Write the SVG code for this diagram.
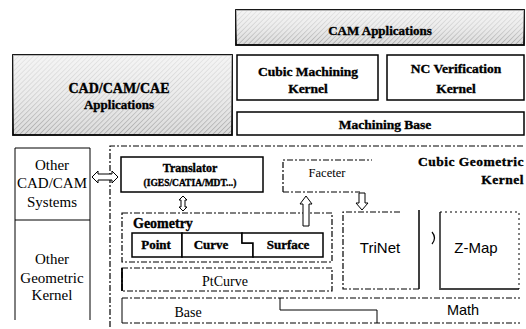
<svg xmlns="http://www.w3.org/2000/svg" width="526" height="329" viewBox="0 0 526 329">
<defs>
<pattern id="hatch" width="3.5" height="3.5" patternUnits="userSpaceOnUse" patternTransform="rotate(45)">
<rect width="3.5" height="3.5" fill="#dcdcdc"/>
<line x1="0" y1="0" x2="0" y2="3.5" stroke="#8a8a8a" stroke-width="1"/>
</pattern>
<linearGradient id="shade" x1="0" y1="0" x2="0" y2="1">
<stop offset="0" stop-color="#ffffff" stop-opacity="0.7"/>
<stop offset="0.5" stop-color="#ffffff" stop-opacity="0.45"/>
<stop offset="1" stop-color="#ffffff" stop-opacity="0"/>
</linearGradient>
</defs>
<style>
.solid{fill:#fff;stroke:#000;stroke-width:1.5}
.thin{fill:none;stroke:#000;stroke-width:1}
.dash{fill:none;stroke:#000;stroke-width:1.2;stroke-dasharray:6 2 2 2}
.dot{fill:none;stroke:#000;stroke-width:1;stroke-dasharray:2 3}
.shaded{fill:url(#hatch);stroke:#000;stroke-width:1.8}
.b{font-family:"Liberation Serif",serif;font-weight:bold;fill:#000;stroke:#000;stroke-width:0.35;text-anchor:middle}
.r{font-family:"Liberation Serif",serif;fill:#000;text-anchor:middle}
.s{font-family:"Liberation Sans",sans-serif;fill:#000;text-anchor:middle}
.arrow{fill:#fff;stroke:#000;stroke-width:1}
</style>
<rect width="526" height="329" fill="#fff"/>

<g id="cam-applications">
<rect class="shaded" x="236" y="10" width="288" height="35"/>
<rect x="236" y="10" width="288" height="35" fill="url(#shade)"/>
<text class="b" x="380" y="35" font-size="13">CAM Applications</text>
</g>

<g id="cubic-machining-kernel">
<rect class="solid" x="237" y="55" width="141" height="45"/>
<text class="b" x="308" y="76" font-size="13.5">Cubic Machining</text>
<text class="b" x="308" y="93" font-size="13.5">Kernel</text>
</g>

<g id="nc-verification-kernel">
<rect class="solid" x="387" y="55" width="137" height="45"/>
<text class="b" x="456" y="73" font-size="13.5">NC Verification</text>
<text class="b" x="456" y="93" font-size="13.5">Kernel</text>
</g>

<g id="machining-base">
<rect class="solid" x="237" y="112" width="287" height="23"/>
<text class="b" x="385" y="129" font-size="13.5">Machining Base</text>
</g>

<g id="cad-cam-cae-applications">
<rect class="shaded" x="13" y="55" width="219" height="80"/>
<rect x="13" y="55" width="219" height="80" fill="url(#shade)"/>
<text class="b" x="119" y="93" font-size="14">CAD/CAM/CAE</text>
<text class="b" x="119" y="109" font-size="13">Applications</text>
</g>

<g id="other-cad-cam-systems">
<path class="thin" d="M15,220 V148 H90 V220"/>
<text class="r" x="52" y="170" font-size="15">Other</text>
<text class="r" x="52" y="188" font-size="15">CAD/CAM</text>
<text class="r" x="52" y="207" font-size="15">Systems</text>
</g>

<g id="other-geometric-kernel">
<path class="thin" d="M15,320 V220 H90 V320"/>
<text class="r" x="52" y="264" font-size="15">Other</text>
<text class="r" x="52" y="283" font-size="15">Geometric</text>
<text class="r" x="52" y="300" font-size="15">Kernel</text>
</g>

<g id="cubic-geometric-kernel">
<path class="dash" d="M110,327 V146 H524"/>
<text class="b" x="524" y="166" font-size="13.5" style="text-anchor:end" letter-spacing="0.5">Cubic Geometric</text>
<text class="b" x="524" y="184" font-size="13.5" style="text-anchor:end" letter-spacing="0.5">Kernel</text>
</g>

<g id="translator">
<rect class="solid" x="121" y="157" width="142" height="35"/>
<text class="b" x="190" y="172" font-size="12">Translator</text>
<text class="b" x="190" y="186" font-size="9.5">(IGES/CATIA/MDT...)</text>
</g>

<g id="faceter">
<path class="dash" d="M283,192 V160 H372 M283,192 H360"/>
<text class="r" x="327" y="177" font-size="12.5">Faceter</text>
</g>

<g id="geometry">
<rect class="dash" x="122" y="213" width="210" height="49"/>
<text class="b" x="133" y="228" font-size="14" style="text-anchor:start">Geometry</text>
<g id="point">
<rect class="solid" x="132" y="233" width="50" height="24"/>
<text class="b" x="156" y="249" font-size="13">Point</text>
</g>
<g id="curve">
<path class="solid" d="M182,233 H242 V243 H253 V257 H182 Z"/>
<text class="b" x="211" y="249" font-size="13">Curve</text>
</g>
<g id="surface">
<path class="solid" d="M242,233 H323 V257 H253 V243 H242 Z"/>
<text class="b" x="288" y="249" font-size="13">Surface</text>
</g>
</g>

<g id="ptcurve">
<rect class="dash" x="122" y="268" width="210" height="23"/>
<line x1="122" y1="268" x2="122" y2="291" stroke="#000" stroke-width="1.8"/>
<text class="r" x="225" y="286" font-size="14">PtCurve</text>
</g>

<g id="trinet">
<path class="dash" d="M419,289 H343 V212 H400"/>
<line x1="419" y1="210" x2="419" y2="289" stroke="#000" stroke-width="1.5"/>
<text class="s" x="380" y="253" font-size="15">TriNet</text>
</g>

<g id="z-map">
<path d="M440,212 V289 H519" fill="none" stroke="#444" stroke-width="1.8"/>
<path class="dot" d="M440,212 H519 V289"/>
<text class="s" x="476" y="253" font-size="15">Z-Map</text>
</g>

<g id="base">
<path class="dash" d="M122,298 H520 M122,323 H520"/>
<line x1="122" y1="298" x2="122" y2="323" stroke="#000" stroke-width="1"/>
<path class="thin" d="M280,298 V310 H377 V323"/>
<text class="r" x="188" y="317" font-size="14">Base</text>
</g>

<g id="math">
<text class="s" x="463" y="315" font-size="14.5">Math</text>
</g>

<g id="connectors">
<polygon class="arrow" points="92,177 98,171 98,174 112,174 112,171 118,177 112,183 112,180 98,180 98,183"/>
<polygon class="arrow" points="183,196 187,200 185,200 185,207 187,207 183,211 179,207 181,207 181,200 179,200"/>
<polygon class="arrow" points="306,196 312,204 309,204 309,226 303,226 303,204 300,204"/>
<polygon class="arrow" points="359,193 365,193 365,203 368,203 362,210 356,203 359,203"/>
<path d="M432,232 Q437,238 432,244" fill="none" stroke="#000" stroke-width="1.2"/>
</g>
</svg>
